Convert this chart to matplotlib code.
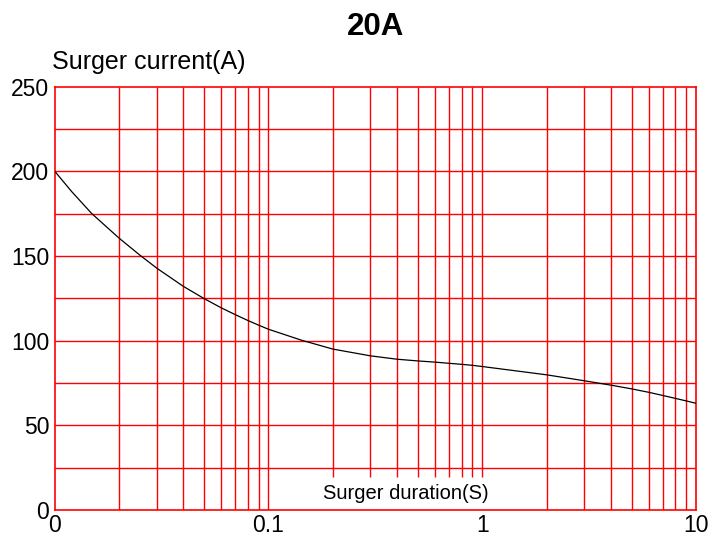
import numpy as np
import matplotlib.pyplot as plt

plt.rcParams['font.family'] = ['Liberation Sans', 'DejaVu Sans']

# curve
duration = [0.01, 0.012, 0.0149, 0.02, 0.025, 0.03, 0.04, 0.05, 0.06, 0.07,
            0.08, 0.09, 0.1, 0.143, 0.2, 0.3, 0.4, 0.5, 0.6, 0.7, 0.8, 0.9, 1,
            2, 3, 4, 5, 6, 7, 8, 9, 10]
current = [200, 188, 175, 160.5, 150.5, 142.8, 132, 124.8, 119.4, 115.3,
           111.9, 109.1, 106.7, 100.2, 95, 91, 89, 88, 87.3, 86.6, 86, 85.4, 84.7,
           79.8, 76.3, 73.7, 71.5, 69.5, 67.6, 65.9, 64.4, 63]

x_ticks = [0.01, 0.1, 1, 10]
x_tick_labels = ['0', '0.1', '1', '10']
y_ticks = [0, 50, 100, 150, 200, 250]

# vertical grid: full height lines and the ones stopping above the label box
full_lines = [0.02, 0.03, 0.04, 0.05, 0.06, 0.07, 0.08, 0.09, 0.1,
              2, 3, 4, 5, 6, 7, 8, 9]
short_lines = [0.2, 0.3, 0.4, 0.5, 0.6, 0.7, 0.8, 0.9, 1]
h_lines = [25, 50, 75, 100, 125, 150, 175, 200, 225]

fig = plt.figure(figsize=(7.14, 5.37), dpi=100)
ax = fig.add_axes([54.7 / 714, 27 / 537, 641.3 / 714, 423.5 / 537])

ax.set_xscale('log')
ax.set_xlim(0.01, 10)
ax.set_ylim(0, 250)

red = '#ff0000'
for x in full_lines:
    ax.vlines(x, 0, 250, color=red, linewidth=1, zorder=1)
for x in short_lines:
    ax.vlines(x, 19.5, 250, color=red, linewidth=1, zorder=1)
for y in h_lines:
    ax.axhline(y, color=red, linewidth=1, zorder=1)

ax.plot(duration, current, color='black', linewidth=0.9, zorder=3)

for s in ax.spines.values():
    s.set_color(red)
    s.set_linewidth(1.2)

ax.set_xticks(x_ticks)
ax.set_xticklabels(x_tick_labels)
ax.xaxis.set_minor_locator(plt.NullLocator())
ax.set_yticks(y_ticks)
ax.tick_params(axis='both', length=0, labelsize=16.5)
ax.tick_params(axis='x', pad=3)
ax.tick_params(axis='y', pad=4)

ax.text(0.547, 0.025, 'Surger duration(S)', transform=ax.transAxes,
        ha='center', va='baseline', fontsize=14.5)
fig.text(52 / 714, 1 - 62 / 537, 'Surger current(A)', ha='left', va='center',
         fontsize=18)
fig.text(376 / 714, 1 - 27 / 537, '20A', ha='center', va='center',
         fontsize=22.5, fontweight='bold')

plt.savefig('out.png', dpi=100)
plt.close()
